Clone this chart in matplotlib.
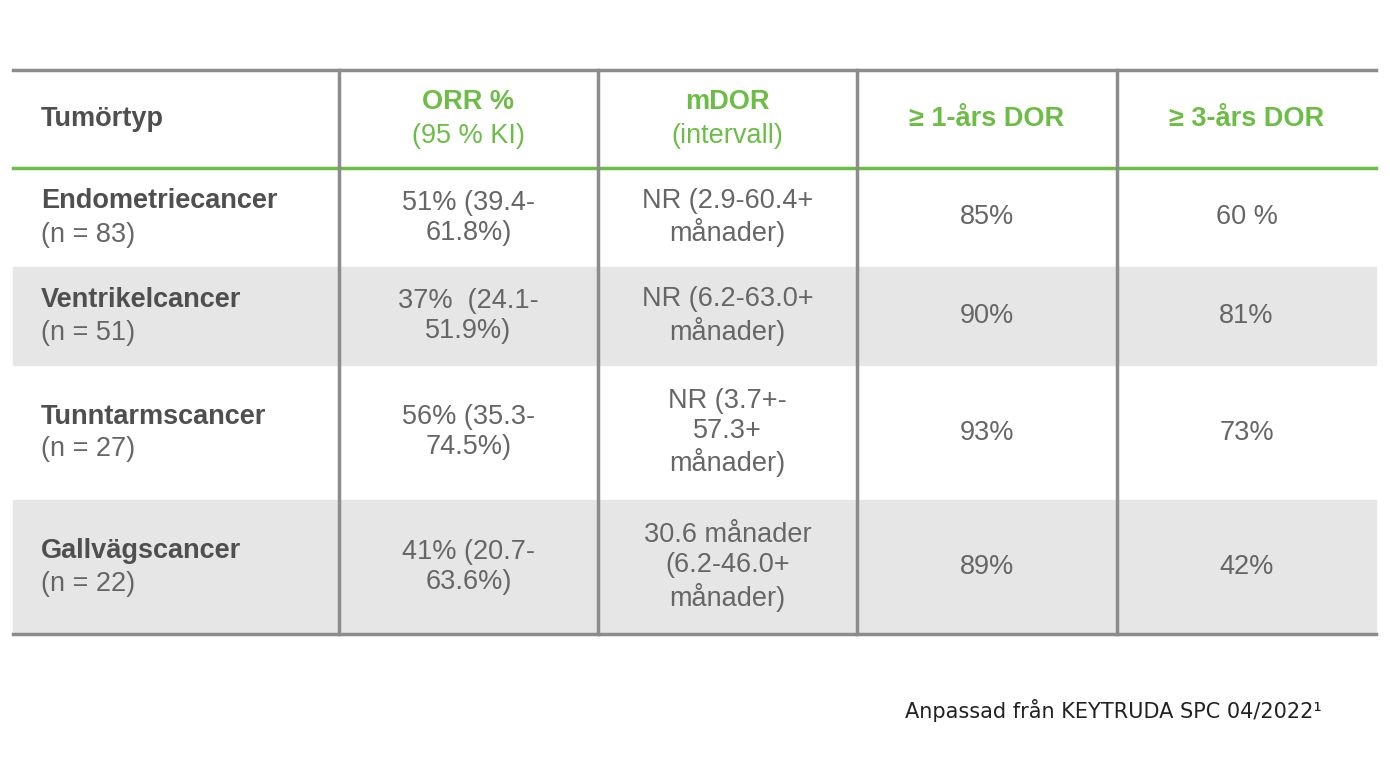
import matplotlib
matplotlib.use("Agg")
import matplotlib.pyplot as plt
from matplotlib.patches import Rectangle

headers = ["Tumörtyp", "ORR %\n(95 % KI)", "mDOR\n(intervall)", "≥ 1-års DOR", "≥ 3-års DOR"]
tumors = ["Endometriecancer", "Ventrikelcancer", "Tunntarmscancer", "Gallvägscancer"]
ns = ["(n = 83)", "(n = 51)", "(n = 27)", "(n = 22)"]
orr = ["51% (39.4-\n61.8%)", "37%  (24.1-\n51.9%)", "56% (35.3-\n74.5%)", "41% (20.7-\n63.6%)"]
mdor = ["NR (2.9-60.4+\nmånader)", "NR (6.2-63.0+\nmånader)", "NR (3.7+-\n57.3+\nmånader)", "30.6 månader\n(6.2-46.0+\nmånader)"]
dor1 = ["85%", "90%", "93%", "89%"]
dor3 = ["60 %", "81%", "73%", "42%"]
source = "Anpassad från KEYTRUDA SPC 04/2022¹"

GREEN = "#6cbd45"; GRAY_T = "#666666"; DARK = "#4f4f4f"; LINE = "#8c8c8c"; FILL = "#e6e6e6"
plt.rcParams["font.family"] = "Liberation Sans"

fig = plt.figure(figsize=(13.9, 7.6), dpi=100)
ax = fig.add_axes([0, 0, 1, 1])
ax.set_xlim(0, 1390); ax.set_ylim(760, 0); ax.axis("off")

xs = [13, 339, 598, 857, 1117, 1376]
ys = [70, 168, 267, 365, 500, 634]
fs = 19.5

for i in range(4):
    if i % 2 == 1:
        ax.add_patch(Rectangle((xs[0], ys[i+1]), xs[-1]-xs[0], ys[i+2]-ys[i+1], color=FILL, zorder=0))

ax.plot([xs[0], xs[-1]], [ys[0]]*2, color=LINE, lw=2.5)
ax.plot([xs[0], xs[-1]], [ys[1]]*2, color=GREEN, lw=2.5)
ax.plot([xs[0], xs[-1]], [ys[-1]]*2, color=LINE, lw=2.5)
for x in xs[1:-1]:
    ax.plot([x, x], [ys[0], ys[-1]], color=LINE, lw=2.5)

hy = (ys[0]+ys[1])/2
ax.text(41, hy, headers[0], fontsize=fs, fontweight="bold", color=DARK, va="center", ha="left")
for j in range(1, 5):
    cx = (xs[j]+xs[j+1])/2
    if "\n" in headers[j]:
        t, b = headers[j].split("\n")
        ax.text(cx, hy-17, t, fontsize=fs, fontweight="bold", color=GREEN, ha="center", va="center")
        ax.text(cx, hy+17, b, fontsize=fs, color=GREEN, ha="center", va="center")
    else:
        ax.text(cx, hy, headers[j], fontsize=fs, fontweight="bold", color=GREEN, ha="center", va="center")

for i in range(4):
    cy = (ys[i+1]+ys[i+2])/2
    ax.text(41, cy-16, tumors[i], fontsize=fs, fontweight="bold", color=DARK, va="center")
    ax.text(41, cy+17, ns[i], fontsize=fs, color=GRAY_T, va="center")
    for j, col in enumerate([orr, mdor, dor1, dor3], start=1):
        cx = (xs[j]+xs[j+1])/2
        ax.text(cx, cy, col[i], fontsize=fs, color=GRAY_T, ha="center", va="center", linespacing=1.2)

ax.text(1322, 710, source, fontsize=15, color="#222222", ha="right", va="center", family="DejaVu Sans")
fig.savefig("out.png", dpi=100)
